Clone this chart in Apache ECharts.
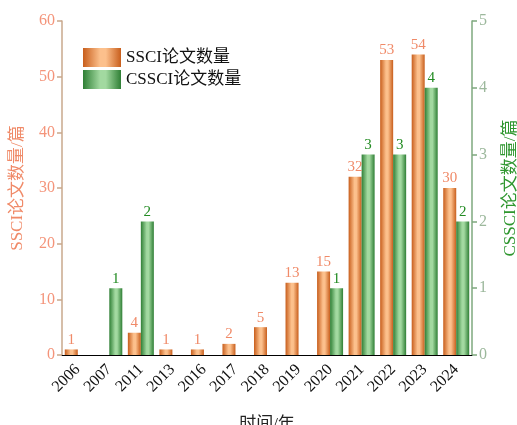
<!DOCTYPE html>
<html><head><meta charset="utf-8">
<script src="https://cdn.jsdelivr.net/npm/echarts@6/dist/echarts.min.js"></script>
<style>html,body{margin:0;padding:0;background:#fff}#c{width:517px;height:425px}</style>
</head><body><div id="c"></div>
<script>
var years = ['2006','2007','2011','2013','2016','2017','2018','2019','2020','2021','2022','2023','2024'];
var ssci = [1,0,4,1,1,2,5,13,15,32,53,54,30];
var cssci = [0,1,2,0,0,0,0,0,1,3,3,4,2];
var leftTicks = {min:0,max:60,interval:10};
var rightTicks = {min:0,max:5,interval:1};

var serif = '"Liberation Serif","Noto Sans CJK SC",serif';
function grad(dark, light){
  return new echarts.graphic.LinearGradient(0,0,1,0,[
    {offset:0,color:dark},{offset:0.45,color:light},{offset:0.6,color:light},{offset:1,color:dark}]);
}
var orange = grad('#c85e1c','#fcc08c');
var green = grad('#2f7f35','#a2d9a0');
var chart = echarts.init(document.getElementById('c'));
chart.setOption({
  animation:false,
  textStyle:{fontFamily:serif},
  grid:{left:62,right:45,top:21,bottom:70,containLabel:false,outerBoundsMode:'none'},
  legend:{
    left:78,top:43,orient:'vertical',itemWidth:38,itemHeight:19,itemGap:3,icon:'rect',
    textStyle:{fontFamily:serif,fontSize:17,color:'#111'},
    data:['SSCI论文数量','CSSCI论文数量']
  },
  xAxis:[{
    type:'category',data:years,position:'bottom',
    name:'时间/年',nameLocation:'middle',nameGap:61,
    nameTextStyle:{fontFamily:serif,fontSize:17,color:'#222'},
    axisLine:{lineStyle:{color:'#000',width:1.2}},
    axisTick:{alignWithLabel:true,length:6,lineStyle:{color:'#000',width:1.5}},
    axisLabel:{rotate:45,fontFamily:serif,fontSize:16,color:'#111',margin:12}
  },{
    type:'category',data:years,position:'top',
    axisLine:{lineStyle:{color:'#000',width:1.2}},
    axisTick:{alignWithLabel:true,inside:true,length:6,lineStyle:{color:'#000',width:1.5}},
    axisLabel:{show:false}
  }],
  yAxis:[{
    type:'value',min:leftTicks.min,max:leftTicks.max,interval:leftTicks.interval,
    name:'SSCI论文数量/篇',nameLocation:'middle',nameGap:36,
    nameTextStyle:{fontFamily:serif,fontSize:17,color:'#f08a68'},
    splitLine:{show:false},
    axisLine:{show:true,lineStyle:{color:'#c9a88c',width:1.5}},
    axisTick:{show:true,length:5,lineStyle:{color:'#c9a88c',width:1.5}},
    axisLabel:{fontFamily:serif,fontSize:16,color:'#f4947a',margin:7}
  },{
    type:'value',min:rightTicks.min,max:rightTicks.max,interval:rightTicks.interval,position:'right',
    name:'CSSCI论文数量/篇',nameLocation:'middle',nameGap:30,nameRotate:90,
    nameTextStyle:{fontFamily:serif,fontSize:17,color:'#2e962e'},
    splitLine:{show:false},
    axisLine:{show:true,lineStyle:{color:'#7ea87e',width:1.5}},
    axisTick:{show:true,length:5,lineStyle:{color:'#7ea87e',width:1.5}},
    axisLabel:{fontFamily:serif,fontSize:16,color:'#9cb89c',margin:7}
  }],
  series:[{
    name:'SSCI论文数量',type:'bar',data:ssci,yAxisIndex:0,xAxisIndex:0,
    barWidth:13,barGap:'0%',
    itemStyle:{color:orange},
    label:{show:true,position:'top',distance:2,fontFamily:serif,fontSize:15,color:'#f08a68',
      formatter:function(p){return p.value? p.value : '';}}
  },{
    name:'CSSCI论文数量',type:'bar',data:cssci,yAxisIndex:1,xAxisIndex:0,
    barWidth:13,barGap:'0%',
    itemStyle:{color:green},
    label:{show:true,position:'top',distance:2,fontFamily:serif,fontSize:15,color:'#228b22',
      formatter:function(p){return p.value? p.value : '';}}
  }]
});
</script></body></html>
